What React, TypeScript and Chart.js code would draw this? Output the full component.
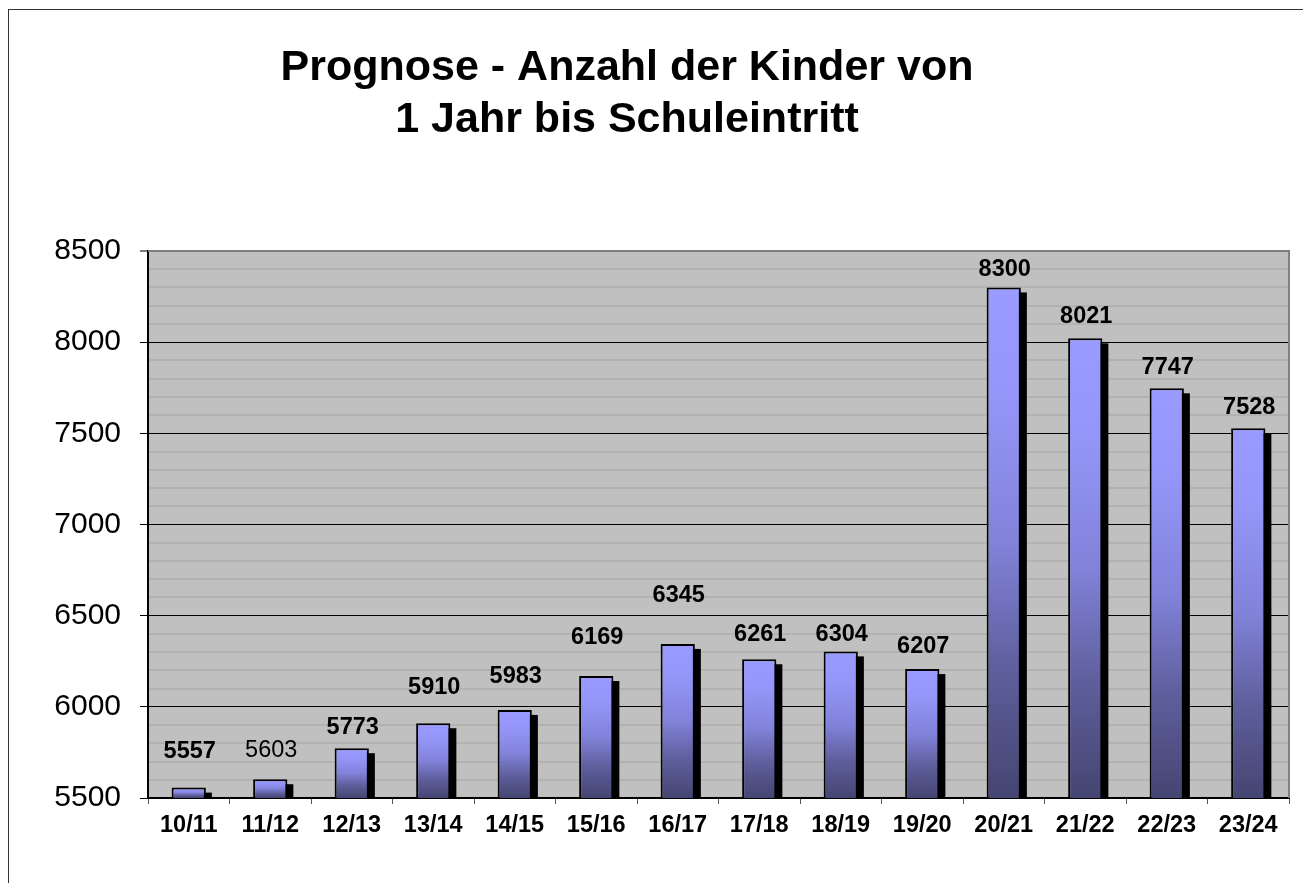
import React, { useEffect, useRef } from "react";
import { Chart, registerables } from "chart.js";

Chart.register(...registerables);

const categories = ["10/11", "11/12", "12/13", "13/14", "14/15", "15/16", "16/17", "17/18", "18/19", "19/20", "20/21", "21/22", "22/23", "23/24"];
const values = [5557, 5603, 5773, 5910, 5983, 6169, 6345, 6261, 6304, 6207, 8300, 8021, 7747, 7528];
const labelOffsets = [36, 29, 21, 36, 33, 39, 48, 25, 17, 23, 18, 22, 21, 21];
const labelBold = [true, false, true, true, true, true, true, true, true, true, true, true, true, true];
const titleLines = ["Prognose - Anzahl der Kinder von", "1 Jahr bis Schuleintritt"];
const yMin = 5500;
const yMax = 8500;
const yStep = 100;
const yMajor = 500;

const FONT = "'Liberation Sans', Arial, sans-serif";

const plotBg = {
  id: "plotBg",
  beforeDraw(chart: any) {
    const { ctx, chartArea: a } = chart;
    ctx.save();
    ctx.fillStyle = "#c0c0c0";
    ctx.fillRect(a.left, a.top, a.right - a.left, a.bottom - a.top);
    ctx.restore();
  },
  afterDraw(chart: any) {
    const { ctx, chartArea: a } = chart;
    ctx.save();
    ctx.strokeStyle = "#808080";
    ctx.lineWidth = 2;
    ctx.beginPath();
    ctx.moveTo(a.left, a.top);
    ctx.lineTo(a.right, a.top);
    ctx.lineTo(a.right, a.bottom);
    ctx.stroke();
    ctx.restore();
  },
};

const chartTitle = {
  id: "chartTitle",
  afterDraw(chart: any) {
    const { ctx } = chart;
    ctx.save();
    ctx.fillStyle = "#000";
    ctx.textAlign = "center";
    ctx.textBaseline = "middle";
    ctx.font = `bold 43px ${FONT}`;
    titleLines.forEach((line, i) => {
      ctx.fillText(line, 627, 68 + i * 52);
    });
    ctx.restore();
  },
};

const shadows = {
  id: "shadows",
  beforeDatasetsDraw(chart: any) {
    const { ctx, chartArea: a } = chart;
    const meta = chart.getDatasetMeta(0);
    ctx.save();
    ctx.beginPath();
    ctx.rect(a.left, a.top, a.right - a.left, a.bottom - a.top);
    ctx.clip();
    ctx.fillStyle = "#000";
    meta.data.forEach((bar: any) => {
      const w = bar.width;
      ctx.fillRect(bar.x - w / 2 + 6, bar.y + 5, w, bar.base - bar.y - 4);
    });
    ctx.restore();
  },
};

const valueLabels = {
  id: "valueLabels",
  afterDatasetsDraw(chart: any) {
    const { ctx } = chart;
    const meta = chart.getDatasetMeta(0);
    ctx.save();
    ctx.fillStyle = "#000";
    ctx.textAlign = "center";
    ctx.textBaseline = "middle";
    meta.data.forEach((bar: any, i: number) => {
      ctx.font = `${labelBold[i] ? "bold " : ""}23.5px ${FONT}`;
      ctx.fillText(String(values[i]), bar.x + 1, bar.y - labelOffsets[i]);
    });
    ctx.restore();
  },
};

export default function App() {
  const ref = useRef<HTMLCanvasElement | null>(null);

  useEffect(() => {
    if (!ref.current) return;
    const chart = new Chart(ref.current, {
      type: "bar",
      data: {
        labels: categories,
        datasets: [
          {
            data: values,
            backgroundColor: (c: any) => {
              const ch = c.chart;
              const a = ch.chartArea;
              if (!a || c.dataIndex === undefined) return "#9090f0";
              const y = ch.scales.y;
              const top = y.getPixelForValue(values[c.dataIndex]);
              const bottom = a.bottom;
              const g = ch.ctx.createLinearGradient(0, top, 0, bottom);
              g.addColorStop(0, "#9a9aff");
              g.addColorStop(0.2, "#9696fa");
              g.addColorStop(0.5, "#8282da");
              g.addColorStop(0.75, "#5e5e9c");
              g.addColorStop(1, "#454572");
              return g;
            },
            borderColor: "#000",
            borderWidth: 2,
            borderSkipped: false,
            barPercentage: 0.42,
            categoryPercentage: 1,
          },
        ],
      },
      options: {
        responsive: false,
        animation: false,
        devicePixelRatio: 1,
        layout: { padding: { left: 0, right: 14, top: 251, bottom: 0 } },
        plugins: {
          legend: { display: false },
          tooltip: { enabled: false },
          title: { display: false },
        },
        scales: {
          x: {
            offset: true,
            grid: {
              display: true,
              offset: true,
              drawOnChartArea: false,
              drawTicks: true,
              tickLength: 6,
              color: "#555",
            },
            border: { display: true, color: "#000", width: 2 },
            ticks: {
              color: "#000",
              font: { family: FONT, size: 23.5, weight: "bold" },
              padding: 7,
              autoSkip: false,
              maxRotation: 0,
            },
            afterFit: (s: any) => {
              s.height = 85;
            },
          },
          y: {
            min: yMin,
            max: yMax,
            grid: {
              color: (c: any) =>
                c.tick.value === yMax ? "#808080" : c.tick.value % yMajor === 0 ? "#000" : "#b2b2b2",
              lineWidth: (c: any) => (c.tick.value % yMajor === 0 && c.tick.value !== yMax ? 1 : 2),
              tickColor: (c: any) => (c.tick.value % yMajor === 0 ? "#000" : "rgba(0,0,0,0)"),
              tickLength: 8,
              tickWidth: 1,
            },
            border: { display: true, color: "#000", width: 2 },
            ticks: {
              stepSize: yStep,
              autoSkip: false,
              color: "#000",
              padding: 19,
              font: { family: FONT, size: 30 },
              callback: (v: any) => (Number(v) % yMajor === 0 ? String(v) : ""),
            },
            afterFit: (s: any) => {
              s.width = 148;
            },
          },
        },
      },
      plugins: [plotBg, shadows, valueLabels, chartTitle],
    });
    return () => chart.destroy();
  }, []);

  return (
    <div style={{ position: "fixed", left: 0, top: 0, width: 1303, height: 883, overflow: "hidden", background: "#fff" }}>
      <div
        style={{
          position: "absolute",
          left: 8,
          top: 9,
          width: 1400,
          height: 1000,
          border: "1px solid #333",
        }}
      />
      <canvas ref={ref} width={1303} height={883} style={{ position: "absolute", left: 0, top: 0 }} />
    </div>
  );
}
